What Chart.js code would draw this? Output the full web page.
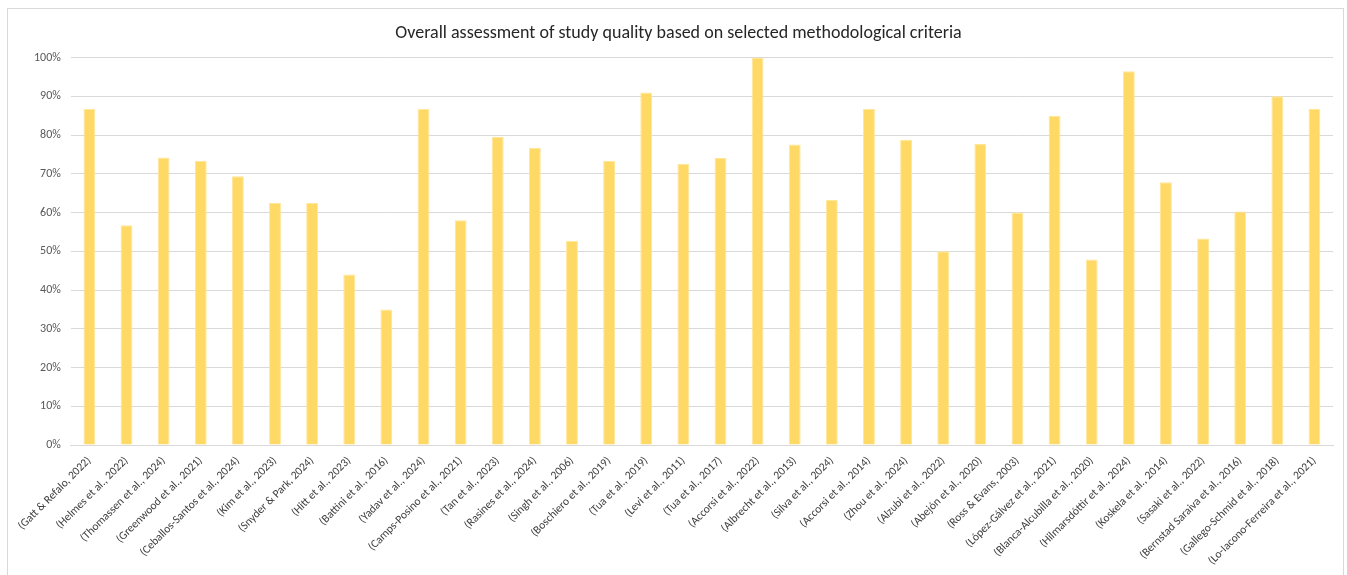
<!DOCTYPE html>
<html>
<head>
<meta charset="utf-8">
<script src="https://cdn.jsdelivr.net/npm/chart.js@4"></script>
<style>
  body { margin: 0; background: #fff; }
  #wrap { position: relative; width: 1347px; height: 575px; }
  #frame { position: absolute; left: 7px; top: 8px; width: 1337px; height: 580px; border: 1px solid #d9d9d9; box-sizing: border-box; }
  canvas { position: absolute; left: 0; top: 0; }
</style>
</head>
<body>
<div id="wrap">
  <div id="frame"></div>
  <canvas id="qualityChart" width="1347" height="575"></canvas>
</div>
<script>
const studies = [
  "(Gatt & Refalo, 2022)", "(Helmes et al., 2022)", "(Thomassen et al., 2024)",
  "(Greenwood et al., 2021)", "(Ceballos-Santos et al., 2024)", "(Kim et al., 2023)",
  "(Snyder & Park, 2024)", "(Hitt et al., 2023)", "(Battini et al., 2016)",
  "(Yadav et al., 2024)", "(Camps-Posino et al., 2021)", "(Tan et al., 2023)",
  "(Rasines et al., 2024)", "(Singh et al., 2006)", "(Boschiero et al., 2019)",
  "(Tua et al., 2019)", "(Levi et al., 2011)", "(Tua et al., 2017)",
  "(Accorsi et al., 2022)", "(Albrecht et al., 2013)", "(Silva et al., 2024)",
  "(Accorsi et al., 2014)", "(Zhou et al., 2024)", "(Alzubi et al., 2022)",
  "(Abejón et al., 2020)", "(Ross & Evans, 2003)", "(López-Gálvez et al., 2021)",
  "(Blanca-Alcubilla et al., 2020)", "(Hilmarsdóttir et al., 2024)", "(Koskela et al., 2014)",
  "(Sasaki et al., 2022)", "(Bernstad Saraiva et al., 2016)", "(Gallego-Schmid et al., 2018)",
  "(Lo-Iacono-Ferreira et al., 2021)"
];

// percent of criteria met
const quality = [
  86.7, 56.7, 74.2, 73.3, 69.4, 62.5, 62.5, 44.0, 35.0, 86.7,
  58.0, 79.5, 76.7, 52.7, 73.3, 91.0, 72.6, 74.1, 100, 77.6,
  63.3, 86.7, 78.8, 50.0, 77.7, 60.0, 85.0, 47.9, 96.5, 67.8,
  53.3, 60.3, 90.0, 86.7
];

const yTicks = [0, 10, 20, 30, 40, 50, 60, 70, 80, 90, 100];

const FONT = "Carlito, Lato, sans-serif";

new Chart(document.getElementById("qualityChart"), {
  type: "bar",
  data: {
    labels: studies,
    datasets: [
      {
        data: quality,
        backgroundColor: "#FFD966",
        borderColor: "#FFE699",
        borderWidth: 1,
        categoryPercentage: 1,
        barPercentage: 0.32,
      },
    ],
  },
  options: {
    responsive: false,
    animation: false,
    layout: {
      padding: { left: 24, right: 14, top: 23, bottom: 0 },
    },
    plugins: {
      legend: { display: false },
      tooltip: { enabled: false },
      title: {
        display: true,
        text: "Overall assessment of study quality based on selected methodological criteria",
        color: "#262626",
        font: { family: FONT, size: 18, weight: "normal" },
        padding: { top: 0, bottom: 13 },
      },
    },
    scales: {
      x: {
        grid: { display: false, drawTicks: false },
        border: { color: "#d9d9d9", width: 1 },
        afterFit: (scale) => {
          scale.height = 130;
        },
        ticks: {
          autoSkip: false,
          minRotation: 45,
          maxRotation: 45,
          color: "#404040",
          padding: 9,
          font: { family: FONT, size: 11.5 },
        },
      },
      y: {
        min: 0,
        max: 100,
        afterBuildTicks: (axis) => {
          axis.ticks = yTicks.map((v) => ({ value: v }));
        },
        grid: { color: "#d9d9d9", lineWidth: 1, drawTicks: false },
        border: { display: false },
        ticks: {
          color: "#595959",
          padding: 10,
          font: { family: FONT, size: 12 },
          callback: (v) => v + "%",
        },
      },
    },
  },
});
</script>
</body>
</html>
